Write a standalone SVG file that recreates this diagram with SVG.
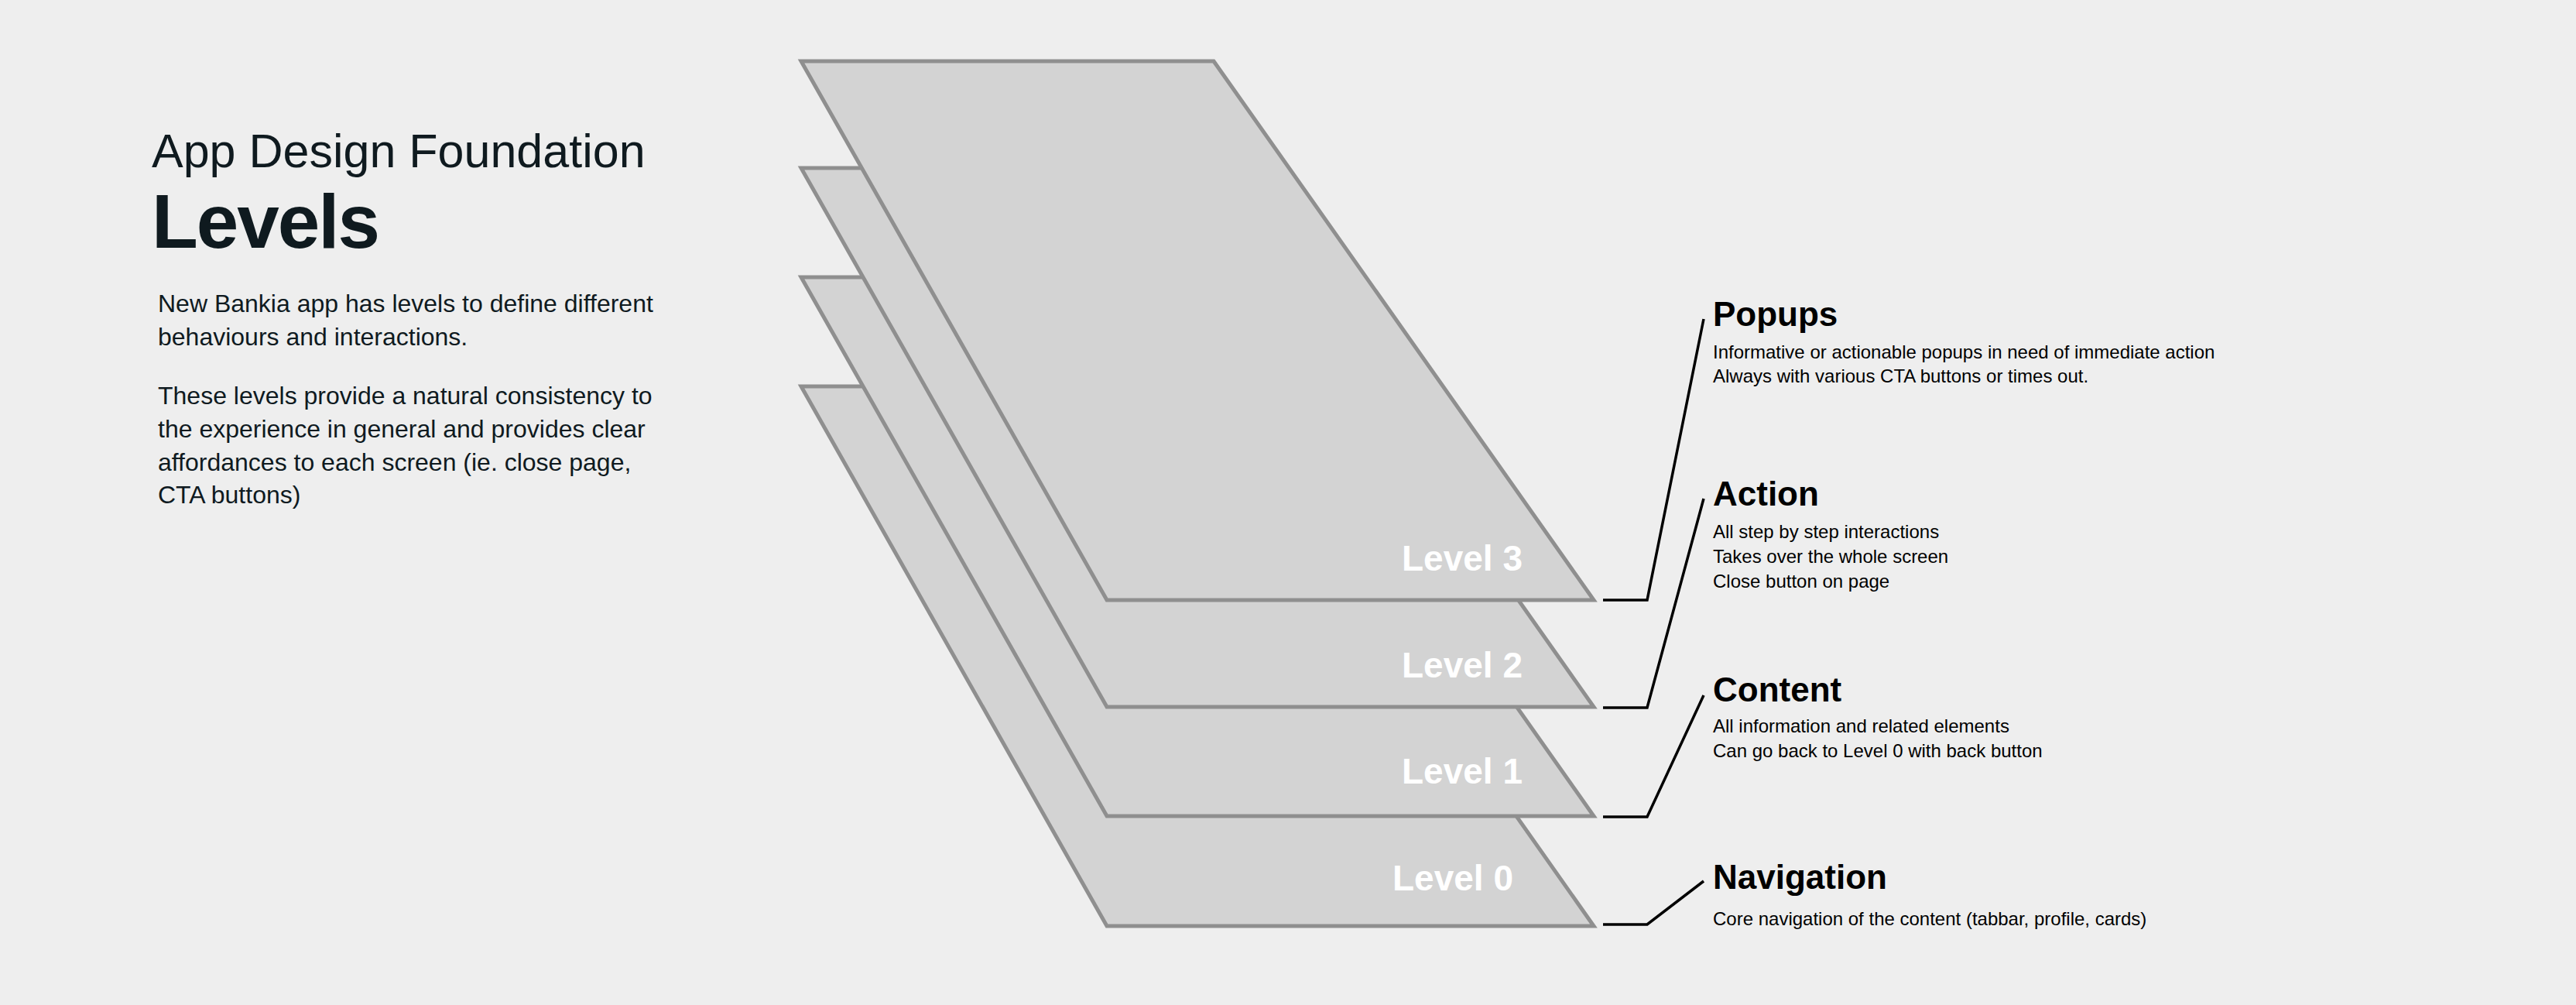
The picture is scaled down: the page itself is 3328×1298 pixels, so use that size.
<svg xmlns="http://www.w3.org/2000/svg" width="3328" height="1298" viewBox="0 0 3328 1298">
<style>
.plane{fill:#d3d3d3;stroke:#8f8f8f;stroke-width:5;stroke-linejoin:miter}
.lvl{font-family:"Liberation Sans",Arial,sans-serif;font-weight:bold;font-size:46px;fill:#ffffff;text-anchor:end}
.conn{fill:none;stroke:#000;stroke-width:3.5}
.h{font-family:"Liberation Sans",Arial,sans-serif;font-weight:bold;font-size:44px;fill:#000}
.d{font-family:"Liberation Sans",Arial,sans-serif;font-size:24px;fill:#000}
.p{font-family:"Liberation Sans",Arial,sans-serif;font-size:32px;fill:#0f1a1f}
</style>
<rect width="3328" height="1298" fill="#eeeeee"/>
<g id="title">
<text x="196" y="216" font-family="Liberation Sans,Arial,sans-serif" font-size="61" fill="#0f1a1f">App Design Foundation</text>
<text x="196" y="320" font-family="Liberation Sans,Arial,sans-serif" font-size="98" font-weight="bold" fill="#0f1a1f" letter-spacing="-2">Levels</text>
<text class="p" x="204" y="403">New Bankia app has levels to define different</text>
<text class="p" x="204" y="446">behaviours and interactions.</text>
<text class="p" x="204" y="522">These levels provide a natural consistency to</text>
<text class="p" x="204" y="565">the experience in general and provides clear</text>
<text class="p" x="204" y="608">affordances to each screen (ie. close page,</text>
<text class="p" x="204" y="650">CTA buttons)</text>
</g>
<g id="level0"><polygon class="plane" points="1035,499 1568,499 2059,1196 1430,1196"/><text class="lvl" x="1955" y="1150">Level 0</text></g>
<g id="level1"><polygon class="plane" points="1035,358 1568,358 2059,1054 1430,1054"/><text class="lvl" x="1967" y="1012">Level 1</text></g>
<g id="level2"><polygon class="plane" points="1035,217 1568,217 2059,913 1430,913"/><text class="lvl" x="1967" y="875">Level 2</text></g>
<g id="level3"><polygon class="plane" points="1035,79 1568,79 2059,775 1430,775"/><text class="lvl" x="1967" y="737">Level 3</text></g>
<g id="connectors">
<polyline class="conn" points="2071,775 2128,775 2201,412"/>
<polyline class="conn" points="2071,914 2128,914 2201,644"/>
<polyline class="conn" points="2071,1055 2128,1055 2201,898"/>
<polyline class="conn" points="2071,1194 2128,1194 2201,1138"/>
</g>
<g id="popups"><text class="h" x="2213" y="421">Popups</text>
<text class="d" x="2213" y="463">Informative or actionable popups in need of immediate action</text>
<text class="d" x="2213" y="494">Always with various CTA buttons or times out.</text></g>
<g id="action"><text class="h" x="2213" y="653">Action</text>
<text class="d" x="2213" y="695">All step by step interactions</text>
<text class="d" x="2213" y="727">Takes over the whole screen</text>
<text class="d" x="2213" y="759">Close button on page</text></g>
<g id="content"><text class="h" x="2213" y="906">Content</text>
<text class="d" x="2213" y="946">All information and related elements</text>
<text class="d" x="2213" y="978">Can go back to Level 0 with back button</text></g>
<g id="navigation"><text class="h" x="2213" y="1148">Navigation</text>
<text class="d" x="2213" y="1195">Core navigation of the content (tabbar, profile, cards)</text></g>
</svg>
